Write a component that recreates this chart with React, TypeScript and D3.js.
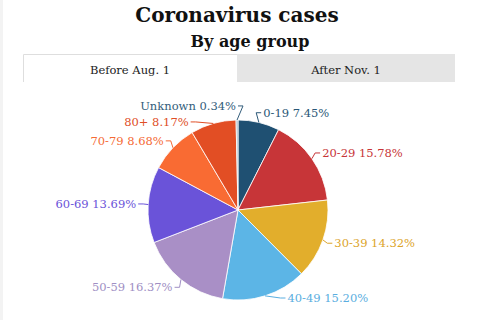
import React from "react";
import * as d3 from "d3";

const categories = ["0-19", "20-29", "30-39", "40-49", "50-59", "60-69", "70-79", "80+", "Unknown"];
const values = [7.45, 15.78, 14.32, 15.2, 16.37, 13.69, 8.68, 8.17, 0.34];
const colors = ["#1f5072", "#c73538", "#e2ae2c", "#5cb5e6", "#a98fc6", "#6a53d9", "#f96b33", "#e24e24", "#9fb6c8"];
const labelColors = ["#2a5777", "#c73538", "#dca42a", "#5aaee0", "#a08fc4", "#6a53d9", "#f56a35", "#e04e26", "#335d7b"];
const title = "Coronavirus cases";
const subtitle = "By age group";
const tabs = ["Before Aug. 1", "After Nov. 1"];

const W = 480;
const H = 320;
const cx = 238;
const cy = 210;
const r = 90;
const labelR = 100;
const gap = 16;
const minY = 60;
const maxY = 298;
const FONT = "'DejaVu Serif', serif";

type Lab = { i: number; a: number; ideal: number; y: number; side: number };

function distribute(list: Lab[]) {
  list.sort((p, q) => p.ideal - q.ideal);
  let clusters = list.map((l) => ({ items: [l], center: l.ideal }));
  const place = (c: { items: Lab[]; center: number }) => {
    const n = c.items.length;
    let start = c.center - ((n - 1) * gap) / 2;
    if (start < minY) start = minY;
    if (start + (n - 1) * gap > maxY) start = maxY - (n - 1) * gap;
    c.items.forEach((it, k) => (it.y = start + k * gap));
  };
  clusters.forEach(place);
  let changed = true;
  while (changed) {
    changed = false;
    for (let k = 1; k < clusters.length; k++) {
      const prev = clusters[k - 1];
      const cur = clusters[k];
      const prevLast = prev.items[prev.items.length - 1].y;
      const curFirst = cur.items[0].y;
      if (curFirst < prevLast + gap) {
        const items = prev.items.concat(cur.items);
        const center = (d3.mean(items, (d) => d.ideal) as number) + 2;
        const merged = { items, center };
        place(merged);
        clusters.splice(k - 1, 2, merged);
        changed = true;
        break;
      }
    }
  }
}

export default function App() {
  const pie = d3.pie<number>().sort(null).value((d) => d)(values);
  const arc = d3.arc<d3.PieArcDatum<number>>().innerRadius(0).outerRadius(r);

  const labs: Lab[] = pie.map((p, i) => {
    const a = (p.startAngle + p.endAngle) / 2;
    return { i, a, ideal: cy - labelR * Math.cos(a), y: 0, side: a < Math.PI ? 1 : -1 };
  });
  distribute(labs.filter((l) => l.side > 0));
  distribute(labs.filter((l) => l.side < 0));

  return (
    <div style={{ position: "fixed", left: 0, top: 0 }}>
      <svg width={W} height={H} style={{ display: "block", background: "#fff" }}>
        <rect x={0} y={0} width={3} height={H} fill="#f3f3f3" />
        <text x={237} y={22} textAnchor="middle" fontFamily={FONT} fontWeight="bold" fontSize={20} fill="#111">
          {title}
        </text>
        <text x={250} y={47} textAnchor="middle" fontFamily={FONT} fontWeight="bold" fontSize={16} fill="#111">
          {subtitle}
        </text>
        <rect x={237} y={54} width={218} height={28} fill="#e5e5e5" />
        <path d="M23.5,82 L23.5,54.5 L237,54.5" fill="none" stroke="#dedede" strokeWidth={1} />
        <text x={130} y={74} textAnchor="middle" fontFamily={FONT} fontSize={11.5} fill="#222">
          {tabs[0]}
        </text>
        <text x={346} y={74} textAnchor="middle" fontFamily={FONT} fontSize={11.5} fill="#222">
          {tabs[1]}
        </text>
        <g transform={`translate(${cx},${cy})`}>
          {pie.map((p, i) => (
            <path key={i} d={arc(p) || ""} fill={colors[i]} stroke="#fff" strokeWidth={0.8} strokeLinejoin="round" />
          ))}
        </g>
        {labs.map((l) => {
          const dy = l.y - cy;
          const dx = Math.sqrt(Math.max(0, labelR * labelR - dy * dy));
          const ax = cx + l.side * dx;
          const ex = cx + r * Math.sin(l.a);
          const ey = cy - r * Math.cos(l.a);
          const bx = ax - l.side * 5;
          const tx = ax + l.side * 2;
          return (
            <g key={l.i}>
              <path
                d={`M${ex},${ey} L${bx},${l.y} L${ax},${l.y}`}
                fill="none"
                stroke={labelColors[l.i]}
                strokeWidth={1}
              />
              <text
                x={tx}
                y={l.y + 4}
                textAnchor={l.side > 0 ? "start" : "end"}
                fontFamily={FONT}
                fontSize={11.5}
                fill={labelColors[l.i]}
              >
                {`${categories[l.i]} ${values[l.i].toFixed(2)}%`}
              </text>
            </g>
          );
        })}
      </svg>
    </div>
  );
}
